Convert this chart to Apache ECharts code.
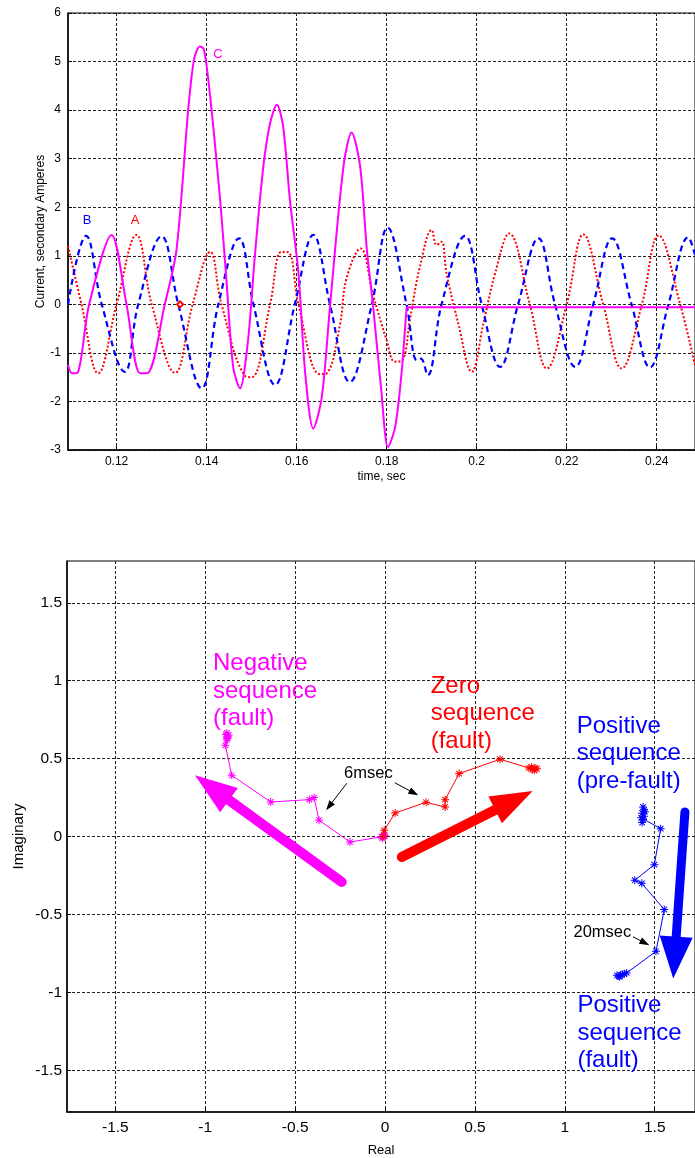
<!DOCTYPE html>
<html><head><meta charset="utf-8">
<script src="https://cdn.jsdelivr.net/npm/echarts@6/dist/echarts.min.js"></script>
<style>html,body{margin:0;padding:0;background:#fff}#chart{width:695px;height:1158px}</style>
</head><body><div id="chart"></div>
<script>
// ---------------- DATA: top panel (time, sec ; current, secondary Amperes) ----------------
const phaseA = [ // red dotted
  [0.1092,1.20],[0.1122,0],[0.1159,-1.42],[0.1200,0],[0.1244,1.43],[0.1278,0],[0.1330,-1.41],
  [0.1369,0],[0.1408,1.08],[0.1433,0],[0.1485,-1.47],[0.1500,-1.50],[0.1541,0],[0.1566,1.08],
  [0.1582,1.07],[0.1604,0],[0.1652,-1.44],[0.1667,-1.42],[0.1696,-0.43],[0.1711,0.54],[0.1742,1.15],
  [0.1770,0.19],[0.1800,-0.74],[0.1818,-1.18],[0.1835,-1.15],[0.1852,-0.29],[0.1874,0.78],
  [0.1900,1.53],[0.1911,1.22],[0.1922,1.29],[0.1933,0.64],[0.1959,-0.39],[0.1989,-1.39],
  [0.2015,-0.39],[0.2041,0.64],[0.2072,1.46],[0.2118,0],[0.2156,-1.32],[0.2200,0],[0.2237,1.44],
  [0.2281,0],[0.2322,-1.32],[0.2367,0],[0.2404,1.42],[0.2452,0],[0.2485,-1.25]
];
const phaseB = [ // blue dashed
  [0.1092,0],[0.1132,1.41],[0.1167,0],[0.1218,-1.39],[0.1248,0],[0.1300,1.40],[0.1337,0],
  [0.1389,-1.73],[0.1426,0],[0.1472,1.36],[0.1504,0],[0.1552,-1.66],[0.1596,0],[0.1637,1.43],
  [0.1674,0],[0.1718,-1.60],[0.1767,0],[0.1802,1.58],[0.1844,0],[0.1867,-1.15],[0.1876,-1.12],
  [0.1891,-1.46],[0.1922,0],[0.1974,1.41],[0.2011,0],[0.2052,-1.29],[0.2092,0],[0.2137,1.36],
  [0.2174,0],[0.2219,-1.29],[0.2259,0],[0.2301,1.36],[0.2344,0],[0.2385,-1.30],[0.2426,0],
  [0.2470,1.38],[0.2485,1.02]
];
const phaseC = [ // magenta solid
  [0.1092,-1.25],[0.1101,-1.42],[0.1114,-1.40],[0.1139,0],[0.1189,1.43],[0.1222,0],[0.1252,-1.42],
  [0.1270,-1.41],[0.1307,0],[0.1333,1.12],[0.1359,4.00],[0.1372,5.04],[0.1385,5.31],[0.1394,5.25],
  [0.1407,4.35],[0.1430,2.15],[0.1444,0.50],[0.1459,-1.29],[0.1474,-1.73],[0.1492,-0.74],
  [0.1507,0.98],[0.1526,2.84],[0.1541,3.73],[0.1556,4.11],[0.1570,3.66],[0.1585,2.15],[0.1604,0.64],
  [0.1619,-1.42],[0.1637,-2.56],[0.1656,-1.90],[0.1674,-0.05],[0.1704,2.84],[0.1722,3.54],
  [0.1741,2.84],[0.1756,1.12],[0.1770,-0.05],[0.1788,-1.77],[0.1803,-2.94],[0.1819,-2.52],
  [0.1833,-1.42],[0.1844,-0.12],[0.1846,-0.06],[0.2485,-0.06]
];
const faultMarker = [[0.1341,0]];
const phaseLabels = ['A','B','C'];
const phaseLabelPos = [[0.12413,1.73],[0.11344,1.73],[0.14251,5.15]];
const topXTicks = [0.12,0.14,0.16,0.18,0.2,0.22,0.24];
const topYTicks = [-3,-2,-1,0,1,2,3,4,5,6];

// ---------------- DATA: bottom panel (Real ; Imaginary) ----------------
const negSeq = [
  [-0.010,0.000],[-0.005,0.010],[-0.015,-0.010],[0.000,0.005],[-0.020,0.000],
  [-0.195,-0.035],[-0.367,0.105],[-0.395,0.250],[-0.421,0.237],[-0.636,0.222],[-0.853,0.393],
  [-0.888,0.586],[-0.880,0.620],[-0.875,0.640],[-0.885,0.655],[-0.870,0.650],[-0.880,0.665],[-0.878,0.630]
];
const zeroSeq = [
  [-0.010,0.000],[-0.005,0.040],[0.056,0.151],[0.228,0.220],[0.334,0.190],[0.334,0.237],
  [0.412,0.404],[0.640,0.496],[0.800,0.440],[0.820,0.430],[0.835,0.440],[0.845,0.435],[0.830,0.425],[0.815,0.445]
];
const posSeq = [
  [1.435,0.190],[1.440,0.170],[1.430,0.150],[1.440,0.130],[1.435,0.110],[1.430,0.090],[1.445,0.160],[1.425,0.120],
  [1.533,0.051],[1.498,-0.180],[1.389,-0.280],[1.428,-0.300],[1.553,-0.468],[1.507,-0.736],[1.344,-0.875],
  [1.310,-0.890],[1.300,-0.895],[1.320,-0.885],[1.330,-0.880],[1.305,-0.900],[1.290,-0.890]
];
// big direction arrows [fromX, fromY, toX, toY]
const negArrow = [[-0.241,-0.291,-1.057,0.393]];
const zeroArrow = [[0.093,-0.131,0.821,0.293]];
const posArrow = [[1.668,0.158,1.603,-0.911]];
// small pointer arrows
const timeArrows = [[-0.214,0.340,-0.328,0.169],[0.056,0.344,0.185,0.265],[1.381,-0.644,1.470,-0.697]];
const negText = ['Negative\nsequence\n(fault)'];   const negTextPos = [[-0.957,0.932]];
const zeroText = ['Zero\nsequence\n(fault)'];      const zeroTextPos = [[0.254,0.789]];
const posTexts = ['Positive\nsequence\n(pre-fault)','Positive\nsequence\n(fault)'];
const posTextPos = [[1.066,0.532],[1.070,-1.260]];
const timeTexts = ['6msec','20msec'];
const timeTextPos = [[-0.228,0.408],[1.048,-0.618]];
const botTicks = [-1.5,-1,-0.5,0,0.5,1,1.5];

// ---------------- CHART ----------------
const FF = '"Liberation Sans", Arial, Helvetica, sans-serif';
const STAR = 'path://M0,0.875L2,0.875L2,1.125L0,1.125Z M0.875,0L1.125,0L1.125,2L0.875,2Z M0.212,0.388L0.388,0.212L1.788,1.612L1.612,1.788Z M1.612,0.212L1.788,0.388L0.388,1.788L0.212,1.612Z';
const MAG = '#FF00FF', RED = '#FF0000', BLUE = '#0000FF';
const grid = { color: '#222', type: [3, 2], width: 1 };

function arrowRenderer(color, lw, hl, hw) {
  return function (params, api) {
    const p1 = api.coord([api.value(0), api.value(1)]);
    const p2 = api.coord([api.value(2), api.value(3)]);
    const dx = p2[0] - p1[0], dy = p2[1] - p1[1];
    const len = Math.hypot(dx, dy), ux = dx / len, uy = dy / len;
    const bx = p2[0] - ux * hl, by = p2[1] - uy * hl;
    const nx = -uy, ny = ux;
    return {
      type: 'group',
      children: [
        { type: 'line', shape: { x1: p1[0], y1: p1[1], x2: bx + ux * 2, y2: by + uy * 2 },
          style: { stroke: color, lineWidth: lw, lineCap: 'round' } },
        { type: 'polygon', shape: { points: [[p2[0], p2[1]], [bx + nx * hw / 2, by + ny * hw / 2], [bx - nx * hw / 2, by - ny * hw / 2]] },
          style: { fill: color } }
      ]
    };
  };
}
function arrowSeries(data, color, lw, hl, hw) {
  return { type: 'custom', xAxisIndex: 1, yAxisIndex: 1, data: data, encode: { x: [0, 2], y: [1, 3] },
    renderItem: arrowRenderer(color, lw, hl, hw), silent: true, clip: false, z: 5 };
}
function textSeries(xi, texts, pos, color, size, lh, align) {
  return { type: 'scatter', xAxisIndex: xi, yAxisIndex: xi, symbolSize: 0, silent: true, z: 6,
    itemStyle: { opacity: 1 },
    data: texts.map((t, i) => ({ name: t, value: pos[i] })),
    label: { show: true, position: 'inside', formatter: p => p.name, color: color, fontSize: size,
      lineHeight: lh, align: align, verticalAlign: 'middle', fontFamily: FF, opacity: 1,
      textBorderWidth: 0, textBorderColor: 'transparent', textShadowBlur: 0 } };
}
function seqSeries(data, color) {
  return { type: 'line', xAxisIndex: 1, yAxisIndex: 1, data: data, symbol: STAR, symbolSize: 8,
    showAllSymbol: true, lineStyle: { color: color, width: 1 }, itemStyle: { color: color, opacity: 1 },
    emphasis: { disabled: true }, animation: false, z: 3 };
}

const chart = echarts.init(document.getElementById('chart'), null, { renderer: 'canvas' });
chart.setOption({
  animation: false,
  backgroundColor: '#fff',
  grid: [
    { left: 68, top: 13, right: 0, bottom: 708, show: true, borderColor: '#000', borderWidth: 1, outerBoundsMode: 'none', containLabel: false },
    { left: 67, top: 561, right: 0, bottom: 46, show: true, borderColor: '#000', borderWidth: 1, outerBoundsMode: 'none', containLabel: false }
  ],
  xAxis: [
    { gridIndex: 0, type: 'value', min: 0.1092, max: 0.2485,
      name: 'time, sec', nameLocation: 'middle', nameGap: 21, nameMoveOverlap: false,
      nameTextStyle: { fontSize: 12, color: '#000', fontFamily: FF },
      axisLine: { show: true, onZero: false, lineStyle: { color: '#000', width: 1.5 } },
      axisTick: { show: true, inside: true, length: 4, customValues: topXTicks, lineStyle: { color: '#000' } },
      axisLabel: { customValues: topXTicks, formatter: v => String(+(+v).toFixed(2)), fontSize: 12, color: '#000', margin: 6, fontFamily: FF },
      splitLine: { show: true, lineStyle: grid } },
    { gridIndex: 1, type: 'value', min: -1.769, max: 1.724,
      name: 'Real', nameLocation: 'middle', nameGap: 32, nameMoveOverlap: false,
      nameTextStyle: { fontSize: 13, color: '#000', fontFamily: FF },
      axisLine: { show: true, onZero: false, lineStyle: { color: '#000', width: 1.5 } },
      axisTick: { show: true, inside: true, length: 4, customValues: botTicks, lineStyle: { color: '#000' } },
      axisLabel: { customValues: botTicks, formatter: v => String(+(+v).toFixed(2)), fontSize: 15.5, color: '#000', margin: 8, fontFamily: FF },
      splitLine: { show: true, lineStyle: grid } }
  ],
  yAxis: [
    { gridIndex: 0, type: 'value', min: -3, max: 6, interval: 1,
      name: 'Current, secondary Amperes', nameLocation: 'middle', nameGap: 21, nameMoveOverlap: false,
      nameTextStyle: { fontSize: 12, color: '#000', fontFamily: FF },
      axisLine: { show: true, onZero: false, lineStyle: { color: '#000', width: 1.5 } },
      axisTick: { show: true, inside: true, length: 4, lineStyle: { color: '#000' } },
      axisLabel: { fontSize: 12, color: '#000', margin: 7, fontFamily: FF, showMinLabel: true, showMaxLabel: true },
      splitLine: { show: true, lineStyle: grid } },
    { gridIndex: 1, type: 'value', min: -1.767, max: 1.768,
      name: 'Imaginary', nameLocation: 'middle', nameGap: 41, nameMoveOverlap: false,
      nameTextStyle: { fontSize: 15, color: '#000', fontFamily: FF },
      axisLine: { show: true, onZero: false, lineStyle: { color: '#000', width: 1.5 } },
      axisTick: { show: true, inside: true, length: 4, customValues: botTicks, lineStyle: { color: '#000' } },
      axisLabel: { customValues: botTicks, formatter: v => String(+(+v).toFixed(2)), fontSize: 15.5, color: '#000', margin: 5, fontFamily: FF },
      splitLine: { show: true, lineStyle: grid } }
  ],
  series: [
    { type: 'line', name: 'A', xAxisIndex: 0, yAxisIndex: 0, data: phaseA, showSymbol: false, smooth: 0.4, clip: true,
      lineStyle: { color: RED, width: 2, type: [2, 2] }, z: 3 },
    { type: 'line', name: 'B', xAxisIndex: 0, yAxisIndex: 0, data: phaseB, showSymbol: false, smooth: 0.4, clip: true,
      lineStyle: { color: BLUE, width: 2.2, type: [6, 4] }, z: 3 },
    { type: 'line', name: 'C', xAxisIndex: 0, yAxisIndex: 0, data: phaseC, showSymbol: false, smooth: 0.3, clip: true,
      lineStyle: { color: MAG, width: 2 }, z: 4 },
    { type: 'scatter', xAxisIndex: 0, yAxisIndex: 0, data: faultMarker, symbol: 'emptyDiamond', symbolSize: 6,
      itemStyle: { color: RED, borderColor: RED, borderWidth: 1, opacity: 1 }, z: 5 },
    textSeries(0, [phaseLabels[0]], [phaseLabelPos[0]], RED, 13, 14, 'center'),
    textSeries(0, [phaseLabels[1]], [phaseLabelPos[1]], BLUE, 13, 14, 'center'),
    textSeries(0, [phaseLabels[2]], [phaseLabelPos[2]], MAG, 13, 14, 'center'),

    seqSeries(negSeq, MAG),
    seqSeries(zeroSeq, RED),
    seqSeries(posSeq, BLUE),
    arrowSeries(negArrow, MAG, 10, 42, 30),
    arrowSeries(zeroArrow, RED, 10, 42, 30),
    arrowSeries(posArrow, BLUE, 9, 42, 33),
    arrowSeries(timeArrows, '#000', 1, 10, 7),
    textSeries(1, negText, negTextPos, MAG, 24, 27.5, 'left'),
    textSeries(1, zeroText, zeroTextPos, RED, 24, 27.5, 'left'),
    textSeries(1, posTexts, posTextPos, BLUE, 24, 27.5, 'left'),
    textSeries(1, timeTexts, timeTextPos, '#000', 16.5, 18, 'left')
  ]
});
</script></body></html>
